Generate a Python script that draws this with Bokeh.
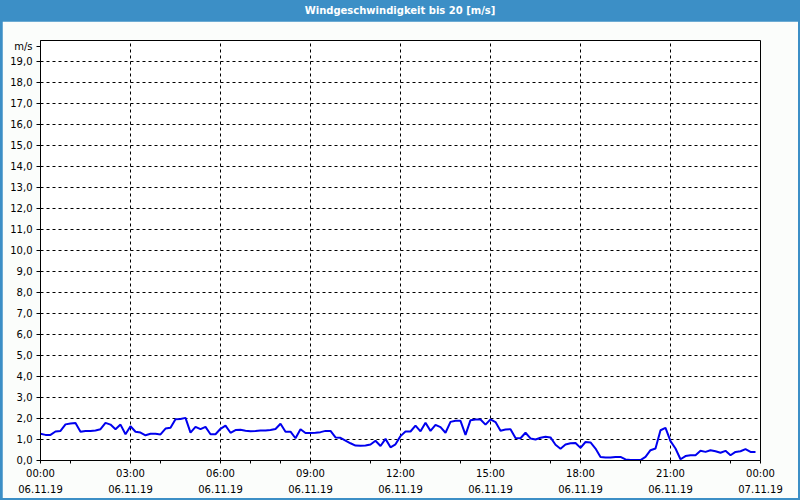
from bokeh.plotting import figure
from bokeh.models import Div, FixedTicker, Range1d, ColumnDataSource
from bokeh.layouts import column
from bokeh.embed import file_html
from bokeh.resources import INLINE

title_text = "Windgeschwindigkeit bis 20 [m/s]"
unit_label = "m/s"

# wind speed in m/s, one reading every 10 minutes from 06.11.19 00:00
interval_minutes = 10
wind = [
    1.27, 1.22, 1.22, 1.38, 1.41, 1.72, 1.76, 1.79, 1.37, 1.41, 1.41, 1.43,
    1.49, 1.79, 1.71, 1.49, 1.71, 1.25, 1.63, 1.37, 1.33, 1.20, 1.27, 1.27,
    1.24, 1.52, 1.56, 1.97, 1.98, 2.03, 1.33, 1.60, 1.49, 1.60, 1.25, 1.25,
    1.51, 1.66, 1.32, 1.45, 1.46, 1.42, 1.39, 1.40, 1.43, 1.43, 1.45, 1.50,
    1.75, 1.37, 1.37, 1.06, 1.49, 1.31, 1.31, 1.32, 1.35, 1.41, 1.41, 1.10,
    1.08, 0.95, 0.82, 0.71, 0.70, 0.71, 0.76, 0.94, 0.69, 1.03, 0.63, 0.77,
    1.16, 1.38, 1.38, 1.66, 1.39, 1.80, 1.41, 1.70, 1.59, 1.32, 1.84, 1.89,
    1.89, 1.22, 1.92, 1.95, 1.95, 1.71, 1.96, 1.83, 1.42, 1.48, 1.49, 1.07,
    1.06, 1.32, 1.05, 1.00, 1.08, 1.13, 1.10, 0.75, 0.56, 0.76, 0.82, 0.83,
    0.60, 0.88, 0.86, 0.57, 0.17, 0.14, 0.14, 0.17, 0.17, 0.05, 0.02, 0.02,
    0.02, 0.17, 0.49, 0.57, 1.44, 1.55, 0.92, 0.57, 0.06, 0.21, 0.25, 0.25,
    0.46, 0.41, 0.49, 0.44, 0.37, 0.46, 0.25, 0.41, 0.44, 0.54, 0.41, 0.41,
]
hours = [i * interval_minutes / 60 for i in range(len(wind))]

x_ticks = [0, 3, 6, 9, 12, 15, 18, 21, 24]
x_tick_labels = ["00:00\n06.11.19", "03:00\n06.11.19", "06:00\n06.11.19",
                 "09:00\n06.11.19", "12:00\n06.11.19", "15:00\n06.11.19",
                 "18:00\n06.11.19", "21:00\n06.11.19", "00:00\n07.11.19"]
x_minor_ticks = [1, 4, 7, 8, 11, 14, 17, 20, 23]
y_ticks = list(range(0, 20))
y_tick_labels = {t: f"{t},0" for t in y_ticks}
unit_pos = 19.7

FONT = "DejaVu Sans"
BLUE = "#3c8fc6"
BG = "#fbfdfb"

p = figure(width=796, height=477, x_range=Range1d(0, 24), y_range=Range1d(0, 20),
           output_backend="svg", toolbar_location=None,
           min_border_left=38, min_border_right=38, min_border_top=19, min_border_bottom=37,
           background_fill_color="white", border_fill_color=BG,
           outline_line_color="black", outline_line_width=1,
           margin=(0, 2, 2, 2))

src = ColumnDataSource(dict(h=hours, v=wind))
p.line("h", "v", source=src, line_color="#0000ee", line_width=2)

# axes
p.xaxis.ticker = FixedTicker(ticks=x_ticks, minor_ticks=x_minor_ticks)
p.xaxis.major_label_overrides = {t: l for t, l in zip(x_ticks, x_tick_labels)}
p.yaxis.ticker = FixedTicker(ticks=y_ticks + [unit_pos])
labels = dict(y_tick_labels)
labels[unit_pos] = unit_label
p.yaxis.major_label_overrides = labels
for ax in (p.xaxis[0], p.yaxis[0]):
    ax.axis_line_color = "black"
    ax.major_tick_line_color = "black"
    ax.minor_tick_line_color = "black"
    ax.major_tick_in = 0
    ax.minor_tick_in = 0
    ax.major_label_text_font = FONT
    ax.major_label_text_font_size = "10px"
    ax.major_label_text_color = "black"
p.xaxis.major_tick_out = 3
p.xaxis.minor_tick_out = 3
p.xaxis.major_label_standoff = 4
p.xaxis.major_label_text_line_height = 1.5
p.yaxis.major_tick_out = 4
p.yaxis.minor_tick_line_color = None
p.yaxis.major_label_standoff = 4

# grid
p.xgrid.ticker = FixedTicker(ticks=x_ticks[1:-1])
p.ygrid.ticker = FixedTicker(ticks=y_ticks[1:])
for g in (p.xgrid[0], p.ygrid[0]):
    g.grid_line_color = "black"
    g.grid_line_alpha = 1.0
    g.grid_line_dash = "3 3"
    g.grid_line_width = 1

title = Div(text=title_text, width=800, height=21, margin=0,
            styles={"background-color": BLUE, "color": "white", "font-family": FONT,
                    "font-weight": "bold", "font-size": "10px", "text-align": "center",
                    "line-height": "21px"})

layout = column(title, p, spacing=0, styles={"background-color": BLUE})

open("out.html", "w").write(file_html(layout, INLINE))
